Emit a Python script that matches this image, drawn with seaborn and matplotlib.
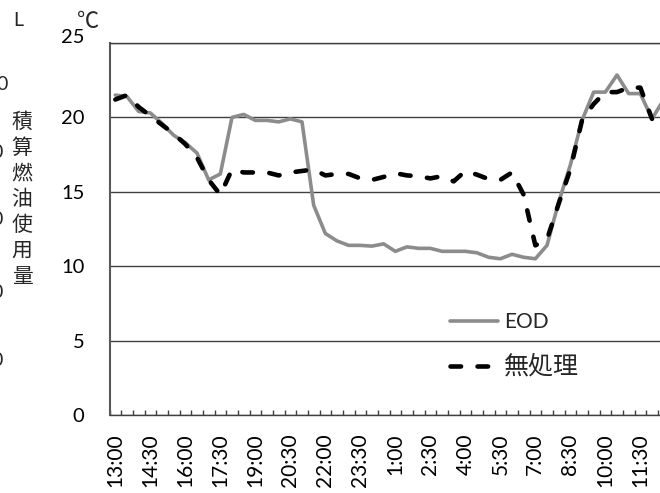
import numpy as np
import pandas as pd
import seaborn as sns
import matplotlib.pyplot as plt
from matplotlib.transforms import ScaledTranslation

# 30分ごとの時刻（カテゴリ軸）
times = ["13:00", "13:30", "14:00", "14:30", "15:00", "15:30", "16:00", "16:30",
         "17:00", "17:30", "18:00", "18:30", "19:00", "19:30", "20:00", "20:30",
         "21:00", "21:30", "22:00", "22:30", "23:00", "23:30", "0:00", "0:30",
         "1:00", "1:30", "2:00", "2:30", "3:00", "3:30", "4:00", "4:30",
         "5:00", "5:30", "6:00", "6:30", "7:00", "7:30", "8:00", "8:30",
         "9:00", "9:30", "10:00", "10:30", "11:00", "11:30", "12:00", "12:30"]

# 気温 (℃)
eod = [21.5, 21.4, 20.4, 20.3, 19.6, 18.8, 18.3, 17.6, 15.8, 16.2,
       20.0, 20.2, 19.8, 19.8, 19.7, 19.9, 19.7, 14.1, 12.2, 11.7,
       11.4, 11.4, 11.35, 11.5, 11.0, 11.3, 11.2, 11.2, 11.0, 11.0,
       11.0, 10.9, 10.6, 10.5, 10.8, 10.6, 10.5, 11.4, 14.3, 16.8,
       19.8, 21.7, 21.7, 22.85, 21.6, 21.6, 19.9, 21.2]
control = [21.2, 21.5, 20.7, 20.1, 19.5, 18.9, 18.2, 17.3, 15.8, 14.8,
           16.5, 16.3, 16.3, 16.3, 16.1, 16.3, 16.4, 16.5, 16.1, 16.2,
           16.2, 15.9, 15.8, 16.0, 16.25, 16.1, 16.05, 15.9, 16.05, 15.7,
           16.4, 16.15, 15.85, 15.8, 16.3, 14.8, 11.4, 11.8, 14.2, 16.5,
           19.8, 20.9, 21.7, 21.7, 22.0, 22.0, 19.9, np.nan]

yticks = [0, 5, 10, 15, 20, 25]

sns.set_theme(style="white")
plt.rcParams["font.family"] = ["Lato", "Noto Sans CJK JP"]

df = pd.DataFrame({"idx": np.arange(len(times)), "time": times,
                   "EOD": eod, "無処理": control})

W, H = 660, 493
fig = plt.figure(figsize=(W / 100, H / 100), dpi=100)
# 右端は画像の外まで伸ばす（元画像が切り取られているため）
ax = fig.add_axes([109.5 / W, 78 / H, 560 / W, 372 / H])

sns.lineplot(data=df, x="idx", y="EOD", ax=ax, color="#8c8c8c",
             lw=2.6, label="EOD")
sns.lineplot(data=df, x="idx", y="無処理", ax=ax, color="black",
             lw=3.3, linestyle=(0, (2.3, 3.6)), dash_capstyle="round",
             label="無処理")

ax.set_xlim(-0.5, len(times) - 0.5)
ax.set_ylim(0, 25)
ax.set_xlabel("")
ax.set_ylabel("")

ax.set_xticks(np.arange(0, len(times), 3))
ax.set_xticklabels(times[::3], rotation=90)
ax.set_xticks(np.arange(-0.5, len(times)), minor=True)
ax.tick_params(axis="x", which="major", length=0, pad=13.5, labelsize=15,
               colors="black")
ax.tick_params(axis="x", which="minor", bottom=True, direction="in",
               length=3.6, width=1.0, color="#404040")

ax.set_yticks(yticks)
ax.tick_params(axis="y", length=0, pad=18, labelsize=14.5, colors="black")
lab25 = ax.get_yticklabels()[-1]
lab25.set_transform(lab25.get_transform() + ScaledTranslation(0, 7 / 100, fig.dpi_scale_trans))

ax.yaxis.grid(True, color="#404040", lw=1.0)
ax.xaxis.grid(False)
ax.set_axisbelow(True)

for side in ["top", "bottom"]:
    ax.spines[side].set_color("#404040")
    ax.spines[side].set_linewidth(1.0)
ax.spines["left"].set_color("#595959")
ax.spines["left"].set_linewidth(1.5)
ax.spines["right"].set_visible(False)

leg = ax.legend(loc="upper left", bbox_to_anchor=(450 / W, 1 - 312 / H),
                bbox_transform=fig.transFigure, frameon=False, fontsize=15,
                handlelength=2.3, handletextpad=0.3, labelspacing=1.05,
                borderpad=0, borderaxespad=0)
leg.get_texts()[1].set_fontsize(18)

# 単位
fig.text(88 / W, 1 - 22 / H, "℃", fontsize=16, ha="center", va="center")

# 左隣のグラフの切れ端
fig.text(13 / W, 1 - 21 / H, "L", fontsize=14, ha="left", va="center")
fig.text(8 / W, 1 - 85 / H, "0", fontsize=14, ha="right", va="center")
for yy in [153, 220, 293, 360]:
    fig.text(3 / W, 1 - yy / H, "0", fontsize=14, ha="right", va="center")
for k, ch in enumerate("積算燃油使用量"):
    fig.text(22 / W, 1 - (122 + 25.8 * k) / H, ch, fontsize=15,
             ha="center", va="center")

fig.savefig("out.png", dpi=100)
